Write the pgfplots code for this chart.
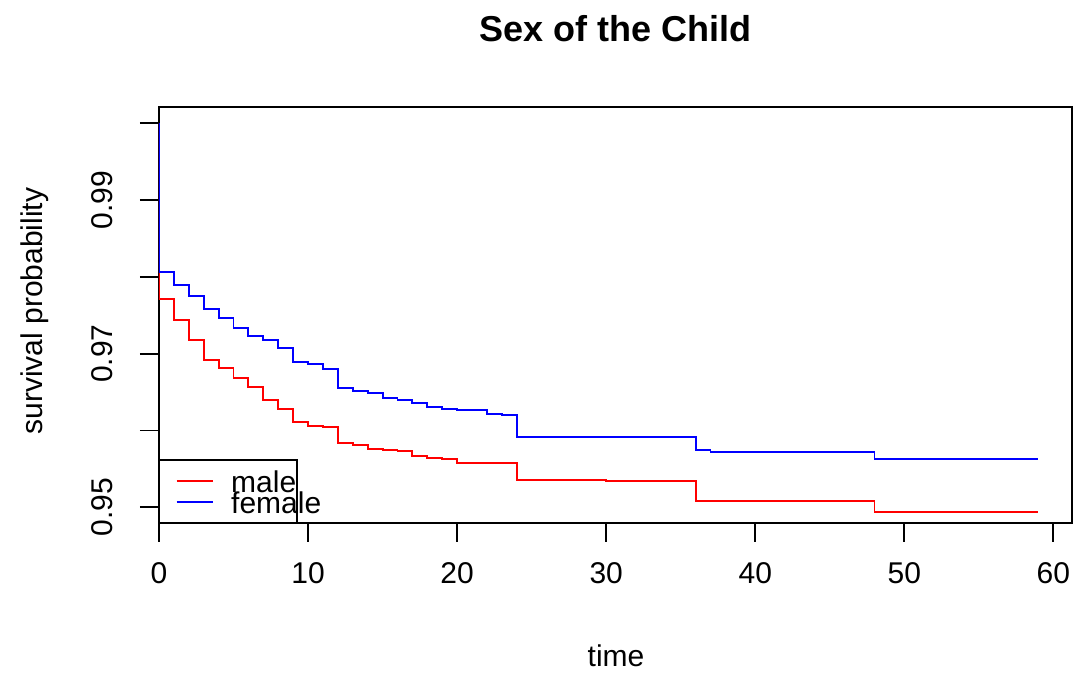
\documentclass[border=0pt]{standalone}
\usepackage{fontspec}
\setmainfont{Liberation Sans}
\usepackage{pgfplots}
\pgfplotsset{compat=1.18}
\begin{document}
\begin{tikzpicture}
\begin{axis}[
  at={(0pt,0pt)}, anchor=south west,
  scale only axis, width=365.2pt, height=166.3pt,
  xmin=0, xmax=61.25, ymin=0.948, ymax=1.0021,
  axis line style={line width=0.75pt, black},
  xtick={0,10,20,30,40,50,60},
  ytick={0.95,0.96,0.97,0.98,0.99,1.00},
  yticklabels={0.95,,0.97,,0.99,},
  xtick pos=left, ytick pos=left,
  tick align=outside,
  major tick length=7.6pt,
  tick style={line width=0.75pt, black},
  /pgf/number format/assume math mode=true,
  ticklabel style={font=\fontsize{12}{14}\selectfont},
  xticklabel style={anchor=north, inner ysep=8pt},
  yticklabel style={rotate=90, anchor=south, inner ysep=10.8pt},
]
\addplot[red, line width=0.75pt, const plot mark left] coordinates {
(0,1.0) (0,0.97716) (1,0.97435) (2,0.97174) (3,0.96918) (4,0.96818)
(5,0.96680) (6,0.96562) (7,0.96397) (8,0.96276) (9,0.96107) (10,0.96059)
(11,0.96042) (12,0.95833) (13,0.95811) (14,0.95759) (15,0.95746) (16,0.95737)
(17,0.95672) (18,0.95646) (19,0.95629) (20,0.95573) (24,0.95359) (30,0.95339)
(36,0.95082) (48,0.94935) (59,0.94935)
};
\addplot[blue, line width=0.75pt, const plot mark left] coordinates {
(0,1.0) (0,0.98064) (1,0.97891) (2,0.97751) (3,0.97578) (4,0.97461)
(5,0.97339) (6,0.97230) (7,0.97178) (8,0.97070) (9,0.96896) (10,0.96866)
(11,0.96805) (12,0.96557) (13,0.96518) (14,0.96492) (15,0.96427) (16,0.96397)
(17,0.96358) (18,0.96310) (19,0.96276) (20,0.96263) (22,0.96219) (23,0.96202)
(24,0.95915) (36,0.95750) (37,0.95724) (48,0.95625) (59,0.95625)
};
\end{axis}
\begin{scope}[x=0.4pt,y=0.4pt,shift={(-159,-150.3)}]
% legend
\draw[line width=0.75pt, black] (159,213) rectangle (296.7,150.3);
\draw[red, line width=0.75pt] (176.7,192.3) -- (212.7,192.3);
\draw[blue, line width=0.75pt] (176.7,171.3) -- (212.7,171.3);
\node[anchor=base west, inner sep=0pt, font=\fontsize{12}{14}\selectfont] at (230.7,180) {male};
\node[anchor=base west, inner sep=0pt, font=\fontsize{12}{14}\selectfont] at (230.7,159.7) {female};
% titles
\node[anchor=base, inner sep=0pt, font=\fontsize{14.4}{17}\selectfont\bfseries] at (615.5,631.3) {Sex of the Child};
\node[anchor=base, inner sep=0pt, font=\fontsize{12}{14}\selectfont] at (616,6) {time};
\node[anchor=base, inner sep=0pt, rotate=90, font=\fontsize{12}{14}\selectfont] at (42.7,362) {survival probability};
\pgfresetboundingbox
\path[use as bounding box] (0,0) rectangle (1075,673);
\end{scope}
\end{tikzpicture}
\end{document}
